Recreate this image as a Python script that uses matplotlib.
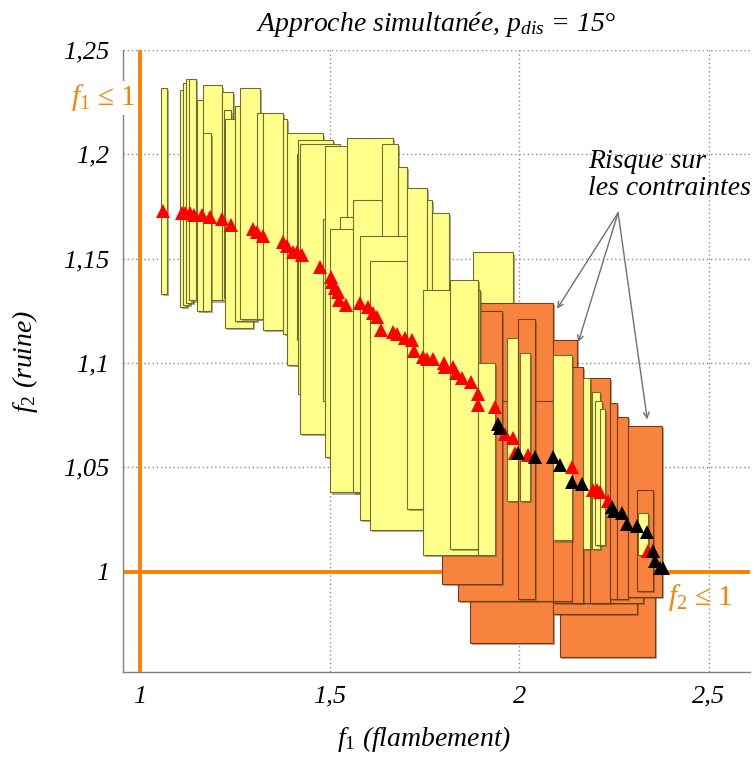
import matplotlib
matplotlib.use("Agg")
import matplotlib.pyplot as plt
import matplotlib.patheffects as pe

plt.rcParams["font.family"] = ["Liberation Serif", "DejaVu Serif"]
plt.rcParams["mathtext.fontset"] = "custom"
plt.rcParams["mathtext.rm"] = "Liberation Serif"
plt.rcParams["mathtext.it"] = "Liberation Serif:italic"
plt.rcParams["mathtext.bf"] = "Liberation Serif:bold"

# boites d'incertitude (f1 min, f1 max, f2 min, f2 max), dans l'ordre de trace
box_x0 = [1.055, 1.106, 1.113, 1.121, 1.129, 1.150, 1.166, 1.166, 1.216, 1.222,
          1.224, 1.251, 1.264, 1.309, 1.325, 1.377, 1.388, 1.414, 1.417, 1.422,
          1.483, 1.488, 1.546, 1.528, 1.501, 1.562, 1.639, 1.681, 1.580, 1.607,
          1.704, 1.757, 1.770, 1.879,
          2.108, 1.871, 2.090, 2.090, 1.839, 1.797,
          1.747, 1.818, 1.892, 1.968, 1.997, 2.003,
          2.090, 2.140, 2.187, 2.240, 2.259, 2.288, 2.311,
          2.090, 2.169, 2.193, 2.201, 2.214, 2.314]
box_x1 = [1.071, 1.124, 1.132, 1.140, 1.148, 1.172, 1.216, 1.187, 1.245, 1.240,
          1.298, 1.309, 1.317, 1.325, 1.377, 1.388, 1.483, 1.427, 1.509, 1.528,
          1.528, 1.625, 1.668, 1.588, 1.633, 1.678, 1.681, 1.704, 1.720, 1.757,
          1.757, 1.770, 1.815, 1.984,
          2.359, 2.090, 2.311, 2.327, 2.090, 1.955,
          1.897, 1.892, 1.937, 2.003, 2.042, 2.029,
          2.153, 2.169, 2.240, 2.259, 2.288, 2.377, 2.354,
          2.140, 2.187, 2.214, 2.219, 2.227, 2.340]
box_y0 = [1.133, 1.127, 1.128, 1.129, 1.130, 1.125, 1.130, 1.125, 1.130, 1.131,
          1.117, 1.120, 1.121, 1.121, 1.116, 1.114, 1.099, 1.111, 1.085, 1.066,
          1.082, 1.055, 1.063, 1.049, 1.038, 1.038, 1.044, 1.034, 1.025, 1.020,
          1.030, 1.027, 1.015, 1.015,
          0.959, 0.966, 0.980, 0.985, 0.986, 0.994,
          1.008, 1.011, 1.008, 1.034, 0.987, 1.034,
          0.986, 0.985, 0.985, 0.987, 0.987, 0.988, 0.991,
          1.015, 1.011, 1.011, 1.013, 1.013, 1.008]
box_y1 = [1.232, 1.231, 1.234, 1.236, 1.236, 1.226, 1.233, 1.210, 1.230, 1.221,
          1.217, 1.223, 1.232, 1.220, 1.220, 1.217, 1.210, 1.200, 1.207, 1.205,
          1.169, 1.204, 1.208, 1.170, 1.164, 1.178, 1.205, 1.194, 1.161, 1.149,
          1.184, 1.178, 1.172, 1.153,
          1.049, 1.129, 1.063, 1.068, 1.082, 1.125,
          1.135, 1.140, 1.100, 1.112, 1.121, 1.105,
          1.111, 1.098, 1.093, 1.081, 1.074, 1.070, 1.039,
          1.104, 1.093, 1.086, 1.082, 1.078, 1.028]
box_risk = [0] * 34 + [1] * 6 + [0, 0, 0, 0, 1, 0] + [1] * 7 + [0] * 6

# solutions : rouge = sans risque, noir = risque sur les contraintes
red_f1 = [1.061, 1.111, 1.119, 1.132, 1.142, 1.164, 1.185, 1.216, 1.240, 1.298,
          1.309, 1.325, 1.377, 1.388, 1.404, 1.414, 1.427, 1.475, 1.504, 1.507,
          1.515, 1.522, 1.525, 1.544, 1.580, 1.602, 1.615, 1.625, 1.636, 1.668,
          1.678, 1.699, 1.718, 1.723, 1.747, 1.757, 1.773, 1.802, 1.805, 1.826,
          1.834, 1.850, 1.873, 1.892, 1.892, 1.937, 1.963, 1.984, 1.989, 2.024,
          2.140, 2.195, 2.206, 2.214, 2.235, 2.340]
red_f2 = [1.173, 1.172, 1.172, 1.172, 1.171, 1.171, 1.170, 1.169, 1.166, 1.164,
          1.163, 1.161, 1.158, 1.156, 1.153, 1.153, 1.152, 1.146, 1.141, 1.139,
          1.136, 1.134, 1.130, 1.128, 1.129, 1.127, 1.124, 1.122, 1.116, 1.115,
          1.114, 1.112, 1.111, 1.106, 1.103, 1.102, 1.102, 1.100, 1.098, 1.098,
          1.095, 1.093, 1.091, 1.085, 1.080, 1.079, 1.066, 1.064, 1.057, 1.056,
          1.050, 1.039, 1.039, 1.038, 1.034, 1.010]
blk_f1 = [1.945, 1.950, 1.997, 2.042, 2.090, 2.108, 2.140, 2.166, 2.245, 2.251,
          2.272, 2.285, 2.311, 2.338, 2.354, 2.359, 2.372, 2.380]
blk_f2 = [1.071, 1.069, 1.057, 1.055, 1.055, 1.051, 1.043, 1.042, 1.031, 1.029,
          1.028, 1.023, 1.022, 1.019, 1.010, 1.005, 1.002, 1.002]

xticks = [1, 1.5, 2, 2.5]
xtick_labels = ["1", "1,5", "2", "2,5"]
yticks = [1, 1.05, 1.1, 1.15, 1.2, 1.25]
ytick_labels = ["1", "1,05", "1,1", "1,15", "1,2", "1,25"]

ORANGE = "#FF8000"
fig = plt.figure(figsize=(7.54, 7.58), dpi=100)
ax = fig.add_axes([0.1631, 0.1135, 0.8316, 0.8206])
ax.set_xlim(0.955, 2.609)
ax.set_ylim(0.952, 1.25)

fills = ["#F8833E" if r else "#FFFF8A" for r in box_risk]
edges = ["#7A3A12" if r else "#6E6E2E" for r in box_risk]
bars = ax.bar(box_x0, [b - a for a, b in zip(box_y0, box_y1)],
              width=[b - a for a, b in zip(box_x0, box_x1)], bottom=box_y0,
              align="edge", color=fills, edgecolor=edges, linewidth=0.8, zorder=3)
for p in bars:
    p.set_path_effects([pe.SimplePatchShadow(offset=(1.5, -1.5), shadow_rgbFace="#4a4a20", alpha=0.45),
                        pe.Normal()])

ax.plot(red_f1, red_f2, ls="none", marker="^", ms=10, color="#FF0000", mew=0, zorder=5)
ax.plot(blk_f1, blk_f2, ls="none", marker="^", ms=10, color="black", mew=0, zorder=5)

ax.axvline(1, color=ORANGE, lw=2.8, zorder=4)
ax.axhline(1, color=ORANGE, lw=2.8, zorder=2)

ax.set_xticks(xticks)
ax.set_xticklabels(xtick_labels)
ax.set_yticks(yticks)
ax.set_yticklabels(ytick_labels)
ax.tick_params(length=0, labelsize=19, pad=10)
for t in ax.get_xticklabels() + ax.get_yticklabels():
    t.set_fontstyle("italic")
ax.grid(True, color="#8c8c8c", ls=(0, (1, 2)), lw=1)
ax.set_axisbelow(True)
for s in ["top", "right"]:
    ax.spines[s].set_visible(False)
for s in ["left", "bottom"]:
    ax.spines[s].set_color("#808080")
    ax.spines[s].set_linewidth(1)

ax.set_title("Approche simultanée, $p_{dis}$ = 15°", fontsize=20, style="italic", pad=14)
ax.set_xlabel("$f_1$ (flambement)", fontsize=20, style="italic")
ax.xaxis.set_label_coords(0.48, -0.083)
ax.set_ylabel("$f_2$ (ruine)", fontsize=20, style="italic", labelpad=16)

ax.text(0.989, 1.227, "$f_1$ ≤ 1", color=ORANGE, fontsize=21, ha="right", va="center",
        clip_on=False, zorder=3, bbox=dict(facecolor="white", edgecolor="none", pad=1))
ax.text(2.478, 0.9875, "$f_2$ ≤ 1", color=ORANGE, fontsize=21, ha="center", va="center", zorder=6)

ax.text(2.182, 1.19, "Risque sur\nles contraintes", fontsize=20, style="italic",
        ha="left", va="center", linespacing=1.1, zorder=6)
for tx, ty in [(2.100, 1.126), (2.156, 1.110), (2.338, 1.073)]:
    ax.annotate("", xy=(tx, ty), xytext=(2.261, 1.172), zorder=6,
                arrowprops=dict(arrowstyle="->", color="#707070", lw=1, shrinkA=0, shrinkB=0))

fig.savefig("out.png", dpi=100, facecolor="white")
